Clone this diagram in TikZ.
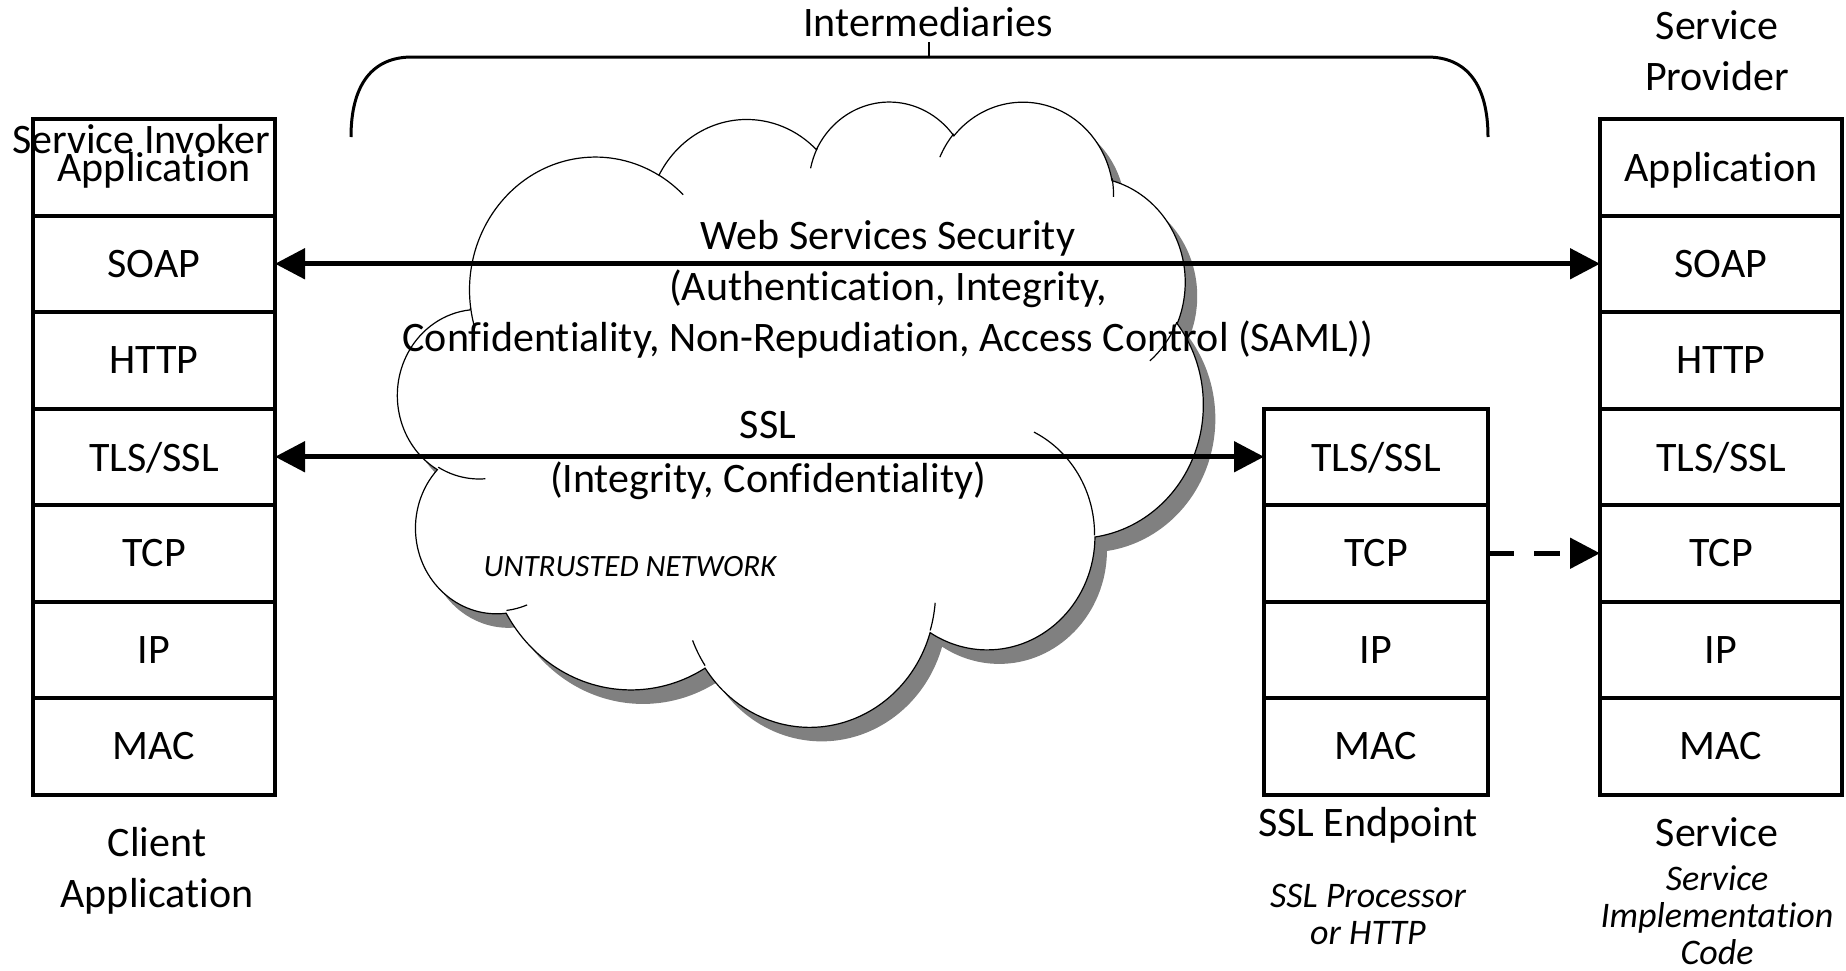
\documentclass[tikz,border=0pt]{standalone}
\usepackage{fontspec}
\setmainfont{Carlito}[Ligatures=NoCommon]
\usepackage{tikz}
\usetikzlibrary{arrows.meta,positioning}
\tikzstyle{layer} = [align=center,draw=black,rectangle,text centered,line width=4pt,minimum width=242pt,minimum height=96.5pt,inner sep=0pt,outer sep=0pt,text depth=0pt,font=\fontsize{42}{51}\selectfont]
\tikzstyle{tag} = [align=center,text centered,inner sep=0pt,font=\fontsize{42}{51}\selectfont]
\tikzstyle{note} = [align=center,text centered,inner sep=0pt,font=\fontsize{36}{37}\selectfont\itshape]
\tikzstyle{link} = [line width=5pt,{Triangle[length=30pt,width=30pt]}-{Triangle[length=30pt,width=30pt]}]
\tikzstyle{hop} = [line width=5pt,dash pattern=on 26pt off 20pt,-{Triangle[length=30pt,width=30pt]}]
\tikzstyle{puff} = [line width=1.2pt]
% outline of the cloud, in units of 1/432 of its box
\newcommand{\cloudpath}{(39.00,143.70)
  arc[start angle=172.26,end angle=300.36,x radius=67.53,y radius=91.90]
  arc[start angle=-152.02,end angle=-45.45,x radius=53.33,y radius=72.67]
  arc[start angle=-153.49,end angle=-37.35,x radius=43.65,y radius=59.45]
  arc[start angle=-139.71,end angle=-10.21,x radius=48.57,y radius=65.95]
  arc[start angle=-74.77,end angle=23.21,x radius=53.33,y radius=72.73]
  arc[start angle=-37.54,end angle=81.86,x radius=67.75,y radius=92.20]
  arc[start angle=0.46,end angle=121.97,x radius=57.85,y radius=78.67]
  arc[start angle=16.84,end angle=146.23,x radius=67.52,y radius=92.15]
  arc[start angle=58.98,end angle=150.19,x radius=77.20,y radius=105.43]
  arc[start angle=83.31,end angle=223.11,x radius=43.60,y radius=59.18]
  arc[start angle=120.35,end angle=264.11,x radius=43.45,y radius=59.45]
  -- cycle}

\begin{document}
\begin{tikzpicture}[x=1pt,y=-1pt]
\useasboundingbox (0,0) rectangle (1846,970);

% untrusted network
\begin{scope}[shift={(398,100)},x=1.8634pt,y=-1.4468pt]
  \fill [black!50,xshift=12pt,yshift=-14pt] \cloudpath;
  \draw [puff,fill=white] \cloudpath;
  \draw [puff] (46.93,261.77) arc[start angle=85.55,end angle=120.35,x radius=43.45,y radius=59.45]
    (69.28,348.99) arc[start angle=68.24,end angle=83.31,x radius=43.60,y radius=59.18]
    (164.78,390.90) arc[start angle=146.23,end angle=158.48,x radius=67.52,y radius=92.15]
    (288.27,347.51) arc[start angle=4.74,end angle=16.84,x radius=67.52,y radius=92.15]
    (341.29,229.54) arc[start angle=-64.03,end angle=0.46,x radius=57.85,y radius=78.67]
    (417.98,153.54) arc[start angle=23.21,end angle=49.65,x radius=53.33,y radius=72.73]
    (383.24,54.26) arc[start angle=-10.21,end angle=0.82,x radius=48.57,y radius=65.95]
    (290.78,39.52) arc[start angle=-156.29,end angle=-139.71,x radius=48.57,y radius=65.95]
    (221.41,47.20) arc[start angle=-167.73,end angle=-153.49,x radius=43.65,y radius=59.45]
    (140.00,51.92) arc[start angle=-59.64,end angle=-45.73,x radius=67.53,y radius=91.90]
    (41.27,157.89) arc[start angle=163.19,end angle=172.26,x radius=67.53,y radius=91.90];
\end{scope}
\node (untrusted) [note,font=\fontsize{31}{33}\selectfont\itshape] at (630,567) {UNTRUSTED NETWORK};

% intermediaries brace
\node (interm) [tag] at (928,22) {Intermediaries};
\draw [line width=3pt] (351,137) .. controls (351,85) and (372,57) .. (412,57) -- (1427,57)
  .. controls (1467,57) and (1488,85) .. (1488,137);
\draw [line width=2pt] (929,57) -- (929,42);

% client stack
\node (cli_app) [layer] at (154,167.25) {Application};
\node (cli_soap) [layer,below=0pt of cli_app] {SOAP};
\node (cli_http) [layer,below=0pt of cli_soap] {HTTP};
\node (cli_tls) [layer,below=0pt of cli_http] {TLS/SSL};
\node (cli_tcp) [layer,below=0pt of cli_tls] {TCP};
\node (cli_ip) [layer,below=0pt of cli_tcp] {IP};
\node (cli_mac) [layer,below=0pt of cli_ip] {MAC};
\node (cli_inv) [tag] at (141,139) {Service Invoker};
\node (client) [tag] at (157,871) {Client\\Application};

% ssl endpoint stack
\node (ssl_tls) [layer,minimum width=224pt] at (1376,456.75) {TLS/SSL};
\node (ssl_tcp) [layer,minimum width=224pt,below=0pt of ssl_tls] {TCP};
\node (ssl_ip) [layer,minimum width=224pt,below=0pt of ssl_tcp] {IP};
\node (ssl_mac) [layer,minimum width=224pt,below=0pt of ssl_ip] {MAC};
\node (sslend) [tag] at (1368,825) {SSL Endpoint};
\node (sslproc) [note] at (1368,914) {SSL Processor\\or HTTP};

% service stack
\node (srv_app) [layer] at (1721,167.25) {Application};
\node (srv_soap) [layer,below=0pt of srv_app] {SOAP};
\node (srv_http) [layer,below=0pt of srv_soap] {HTTP};
\node (srv_tls) [layer,below=0pt of srv_http] {TLS/SSL};
\node (srv_tcp) [layer,below=0pt of srv_tls] {TCP};
\node (srv_ip) [layer,below=0pt of srv_tcp] {IP};
\node (srv_mac) [layer,below=0pt of srv_ip] {MAC};
\node (prov) [tag] at (1717,51) {Service\\Provider};
\node (srv) [tag] at (1717,832) {Service};
\node (srvimpl) [note] at (1717,915) {Service\\Implementation\\Code};

% security texts
\node (wss) [tag] at (888,289) {Web Services Security\\(Authentication, Integrity,\\Confidentiality, Non-Repudiation, Access Control (SAML))};
\node (ssl) [tag,font=\fontsize{42}{54}\selectfont] at (768,455) {SSL\\(Integrity, Confidentiality)};

\draw [link] (cli_soap) -- (srv_soap);
\draw [link] (cli_tls) -- (ssl_tls);
\draw [hop] (ssl_tcp) -- (srv_tcp);
\end{tikzpicture}
\end{document}
